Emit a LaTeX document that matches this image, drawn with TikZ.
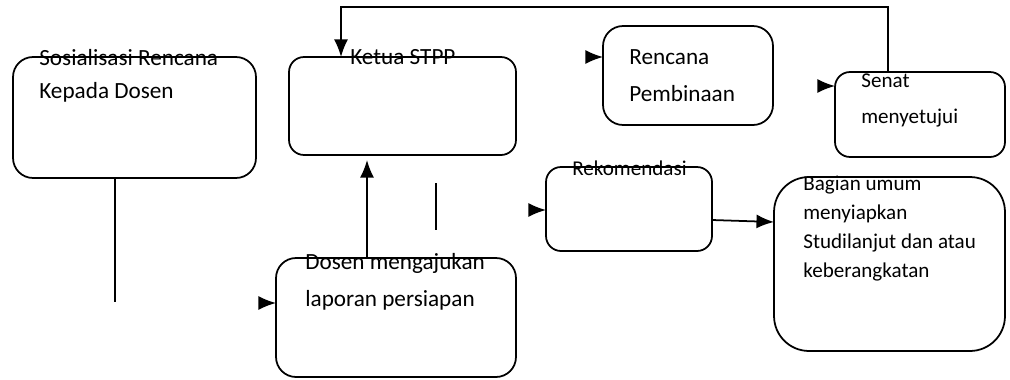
\documentclass[tikz,border=0pt]{standalone}
\usepackage{fontspec}
\setmainfont{Carlito}
\usetikzlibrary{arrows.meta}

\tikzset{
  box/.style={draw, line width=1pt, rounded corners=#1, inner sep=0pt, outer sep=0pt},
  box/.default=0.4cm,
  lbl/.style={anchor=base west, inner sep=0pt, font=\fontsize{13.2}{16}\selectfont},
  lblsm/.style={anchor=base west, inner sep=0pt, font=\fontsize{12}{14}\selectfont},
  link/.style={line width=1pt},
  arr/.style={line width=1pt, -{Latex[length=10pt,width=8pt]}}
}

\begin{document}
\begin{tikzpicture}[x=0.02cm, y=-0.02cm]
    \useasboundingbox (0,0) rectangle (1010,379);

    % Boxes
    \node[box, minimum width=4.86cm, minimum height=2.42cm] (sos) at (134.5,117.5) {};
    \node[box=0.3cm, minimum width=4.54cm, minimum height=1.96cm] (ketua) at (402.5,106) {};
    \node[box, minimum width=3.4cm, minimum height=1.98cm] (rencana) at (688,75.5) {};
    \node[box=0.3cm, minimum width=3.4cm, minimum height=1.7cm] (senat) at (920,114.5) {};
    \node[box=0.3cm, minimum width=3.32cm, minimum height=1.68cm] (rek) at (629,209) {};
    \node[box=0.7cm, minimum width=4.62cm, minimum height=3.48cm] (bagian) at (889.5,264) {};
    \node[box, minimum width=4.8cm, minimum height=2.38cm] (dosen) at (396,317.5) {};

    % Labels
    \node[lbl] (sosT1) at (39,65) {Sosialisasi Rencana};
    \node[lbl] (sosT2) at (39,98) {Kepada Dosen};
    \node[lbl] (ketuaT) at (350,64) {Ketua STPP};
    \node[lbl] (renT1) at (629,64) {Rencana};
    \node[lbl] (renT2) at (629,101) {Pembinaan};
    \node[lblsm] (senT1) at (861,87) {Senat};
    \node[lblsm] (senT2) at (861,123) {menyetujui};
    \node[lblsm] (rekT) at (572,175) {Rekomendasi};
    \node[lblsm] (bagT1) at (803,190) {Bagian umum};
    \node[lblsm] (bagT2) at (803,219) {menyiapkan};
    \node[lblsm] (bagT3) at (803,248) {Studilanjut dan atau};
    \node[lblsm] (bagT4) at (803,277) {keberangkatan};
    \node[lbl] (dosT1) at (305,269) {Dosen mengajukan};
    \node[lbl] (dosT2) at (305,306) {laporan persiapan};

    % Loop from Senat back to Ketua STPP
    \coordinate (loopR) at (888,7);
    \coordinate (loopL) at (341,7);
    \draw[arr] (senat.north -| loopR) -- (loopR) -- (loopL) -- (ketua.north -| loopL);

    % Dosen up to Ketua STPP
    \coordinate (upx) at (367,0);
    \draw[arr] (dosen.north -| upx) -- ([yshift=-0.1cm]ketua.south -| upx);

    % Loose lines
    \coordinate (sosx) at (115,302);
    \draw[link] (sos.south -| sosx) -- (sosx);
    \coordinate (m1) at (436,183);
    \coordinate (m2) at (436,230);
    \draw[link] (m1) -- (m2);

    % Short arrow heads
    \coordinate (renIn) at (587,57);
    \draw[arr] (renIn) -- (rencana.west |- renIn);
    \coordinate (senIn) at (820,86);
    \draw[arr] (senIn) -- (senat.west |- senIn);
    \coordinate (rekIn) at (530,210);
    \draw[arr] (rekIn) -- (rek.west |- rekIn);
    \coordinate (dosIn) at (261,303);
    \draw[arr] (dosIn) -- (dosen.west |- dosIn);

    % Rekomendasi to Bagian umum
    \coordinate (rkOut) at (0,220);
    \coordinate (bgIn) at (0,222);
    \draw[arr] (rek.east |- rkOut) -- (bagian.west |- bgIn);
\end{tikzpicture}
\end{document}
